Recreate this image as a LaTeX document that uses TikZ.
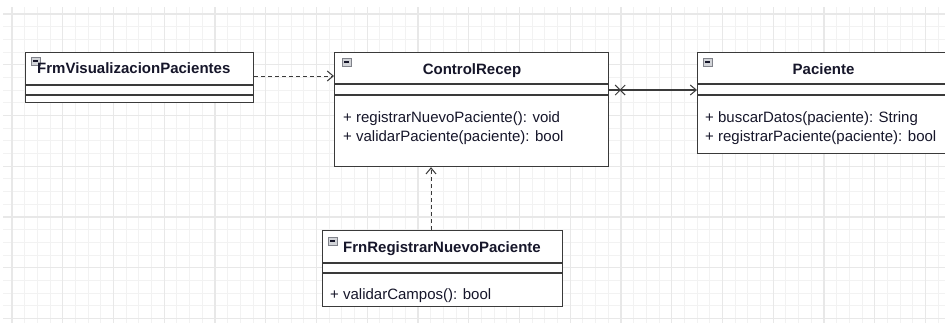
\documentclass[tikz,border=0pt]{standalone}
\usepackage{fontspec}
\setmainfont{Liberation Sans}
\usetikzlibrary{arrows.meta,calc}
\definecolor{gridminor}{HTML}{F2F2F2}
\definecolor{gridmajor}{HTML}{E8E8E8}
\definecolor{boxline}{HTML}{3A3A3A}
\definecolor{ink}{HTML}{16162A}
\definecolor{iconfill}{HTML}{D2D4D8}
\definecolor{iconline}{HTML}{80828A}
\tikzset{
  classbox/.style={draw=boxline, line width=1.2pt, fill=white, rectangle, inner sep=0pt, anchor=north west},
  sep/.style={draw=boxline, line width=1.2pt},
  title/.style={font=\fontsize{15}{18}\selectfont\bfseries, text=ink, inner sep=0pt},
  member/.style={font=\fontsize{15}{18}\selectfont, text=ink, inner sep=0pt, anchor=base west},
  dep/.style={draw=boxline, line width=1pt, dash pattern=on 4pt off 3pt, -{Straight Barb[length=6pt,width=10pt,line width=1pt]}},
  assoc/.style={draw=boxline, line width=1.1pt, -{Straight Barb[length=6pt,width=10pt,line width=1pt]}},
  xmark/.style={draw=boxline, line width=1pt},
}
% small collapse icon of a class header
\newcommand{\collapseicon}[2]{%
  \fill[iconfill, draw=iconline, line width=0.7pt] (#1,#2) rectangle ++(9,8);
  \draw[ink, line width=1.3pt] ($(#1,#2)+(2,4)$) -- ++(5,0);
}
\begin{document}
\begin{tikzpicture}[x=1pt,y=-1pt]
\useasboundingbox (0,0) rectangle (945,322);
\fill[white] (0,0) rectangle (945,322);
% background grid
\begin{scope}
  \clip (3,7) rectangle (945,322);
  \foreach \i in {-1,...,75} {
    \draw[gridminor, line width=1pt] ({12+\i*12.6875},0) -- ++(0,330);
  }
  \foreach \i in {-1,...,26} {
    \draw[gridminor, line width=1pt] (0,{14+\i*12.6875}) -- ++(950,0);
  }
  \foreach \i in {-1,...,19} {
    \draw[gridmajor, line width=1.2pt] ({12+\i*50.75},0) -- ++(0,330);
  }
  \foreach \i in {-1,...,7} {
    \draw[gridmajor, line width=1.2pt] (0,{14+\i*50.75}) -- ++(950,0);
  }
\end{scope}

% class boxes
\node[classbox, minimum width=228pt, minimum height=50pt] (frm) at (25,52) {};
\node[classbox, minimum width=274pt, minimum height=114pt] (ctrl) at (334,52) {};
\begin{scope}
  \clip (0,0) rectangle (945,322);
  \node[classbox, minimum width=253pt, minimum height=101pt] (pac) at (697,52) {};
  \draw[sep] ($(pac.north west)+(0,32)$) -- ($(pac.north east)+(0,32)$);
  \draw[sep] ($(pac.north west)+(0,43)$) -- ($(pac.north east)+(0,43)$);
\end{scope}
\node[classbox, minimum width=240pt, minimum height=76pt] (frn) at (322,230) {};

% compartment separators
\draw[sep] ($(frm.north west)+(0,33)$) -- ($(frm.north east)+(0,33)$);
\draw[sep] ($(frm.north west)+(0,43)$) -- ($(frm.north east)+(0,43)$);
\draw[sep] ($(ctrl.north west)+(0,32)$) -- ($(ctrl.north east)+(0,32)$);
\draw[sep] ($(ctrl.north west)+(0,43)$) -- ($(ctrl.north east)+(0,43)$);
\draw[sep] ($(frn.north west)+(0,33)$) -- ($(frn.north east)+(0,33)$);
\draw[sep] ($(frn.north west)+(0,43)$) -- ($(frn.north east)+(0,43)$);

% collapse icons
\collapseicon{31}{57}
\collapseicon{342}{58}
\collapseicon{703}{58}
\collapseicon{328}{237}

% titles
\node[title, anchor=base west] (frmtitle) at (37,73) {FrmVisualizacionPacientes};
\node[title, anchor=base] (ctrltitle) at (472,74) {ControlRecep};
\node[title, anchor=base] (pactitle) at (823.5,74) {Paciente};
\node[title, anchor=base west] (frntitle) at (343,252) {FrnRegistrarNuevoPaciente};

% operations
\node[member] (c1) at (343,122) {+ registrarNuevoPaciente(): void};
\node[member] (c2) at (343,141) {+ validarPaciente(paciente): bool};
\node[member] (p1) at (705,122) {+ buscarDatos(paciente): String};
\node[member] (p2) at (705,141) {+ registrarPaciente(paciente): bool};
\node[member] (f1) at (330,299) {+ validarCampos(): bool};

% connectors
\coordinate (frmout) at ($(frm.north east)+(0,24)$);
\draw[dep] (frmout) -- (frmout -| ctrl.west);
\coordinate (ctrlout) at ($(ctrl.north east)+(0,38)$);
\draw[assoc] (ctrlout) -- (ctrlout -| pac.west);
\coordinate (xc) at ($(ctrlout)+(11,0)$);
\draw[xmark] ($(xc)+(-5,-5)$) -- ($(xc)+(5,5)$);
\draw[xmark] ($(xc)+(-5,5)$) -- ($(xc)+(5,-5)$);
\coordinate (frnout) at ($(frn.north west)+(109,0)$);
\draw[dep] (frnout) -- (frnout |- ctrl.south);
\end{tikzpicture}
\end{document}
